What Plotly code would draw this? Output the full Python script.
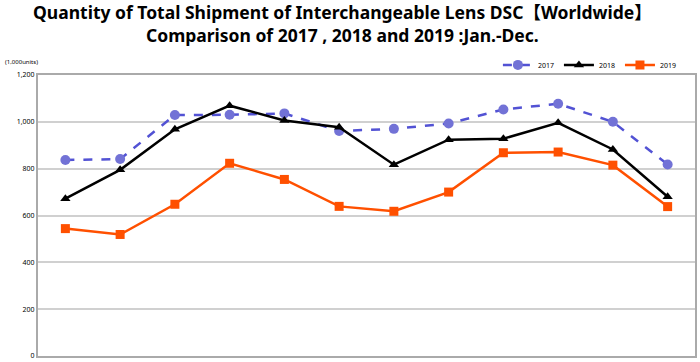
import plotly.graph_objects as go

months = ["Jan", "Feb", "Mar", "Apr", "May", "Jun", "Jul", "Aug", "Sep", "Oct", "Nov", "Dec"]
y2017 = [837, 841, 1029, 1030, 1036, 961, 970, 993, 1053, 1077, 1000, 818]
y2018 = [672, 795, 968, 1069, 1006, 977, 817, 924, 928, 996, 882, 680]
y2019 = [544, 519, 648, 823, 754, 639, 618, 700, 868, 871, 815, 638]
yticks = [0, 200, 400, 600, 800, 1000, 1200]
ytick_labels = ["0", "200", "400", "600", "800", "1,000", "1,200"]
title_lines = ["Quantity of Total Shipment of Interchangeable Lens DSC【Worldwide】",
               "Comparison of 2017 , 2018 and 2019 :Jan.-Dec."]

fig = go.Figure()
fig.add_trace(go.Scatter(x=months, y=y2017, name="2017", mode="lines+markers",
                         line=dict(color="#5252D4", width=2.5, dash="dash"),
                         marker=dict(symbol="circle", size=10, color="#7272D6")))
fig.add_trace(go.Scatter(x=months, y=y2018, name="2018", mode="lines+markers",
                         line=dict(color="#000000", width=2.5),
                         marker=dict(symbol="triangle-up", size=9, color="#000000")))
fig.add_trace(go.Scatter(x=months, y=y2019, name="2019", mode="lines+markers",
                         line=dict(color="#FF5000", width=2.5),
                         marker=dict(symbol="square", size=9, color="#FF5000")))

title_font = dict(size=17.5, family="Noto Sans, Noto Sans CJK JP, sans-serif", color="#000")
# paper height = 362 - 75 - 6 = 281 px; paper y = (356 - pixel_y) / 281
fig.update_layout(
    width=700, height=362,
    margin=dict(l=38, r=5, t=75, b=6, autoexpand=False),
    paper_bgcolor="white", plot_bgcolor="white",
    font=dict(family="Noto Sans, Arial, sans-serif", color="#000"),
    showlegend=True,
    legend=dict(orientation="h", x=0.70, xanchor="left", y=1.036, yanchor="middle",
                font=dict(size=7), itemwidth=30, bgcolor="rgba(0,0,0,0)"),
    xaxis=dict(type="category", range=[-0.5, 11.5], showticklabels=False, showgrid=False,
               showline=True, linecolor="#AAAAAA", linewidth=2, mirror=True, ticks=""),
    yaxis=dict(range=[0, 1200], tickvals=yticks, ticktext=ytick_labels, tickfont=dict(size=7),
               showgrid=True, gridcolor="#D0D0D0", gridwidth=1.5, zeroline=False,
               showline=True, linecolor="#AAAAAA", linewidth=2, mirror=True, ticks=""),
    annotations=[
        dict(text="<b>" + "<br>".join(title_lines) + "</b>", xref="paper", yref="paper",
             x=0.464, y=1.182, xanchor="center", yanchor="middle", align="center",
             showarrow=False, font=title_font),
        dict(text="(1,000units)", xref="paper", yref="paper", x=-0.054, y=1.046,
             xanchor="left", yanchor="middle", showarrow=False, font=dict(size=6)),
    ],
)

fig.write_html("out.html", config={"displayModeBar": False},
               post_script="document.body.style.margin='0';")
